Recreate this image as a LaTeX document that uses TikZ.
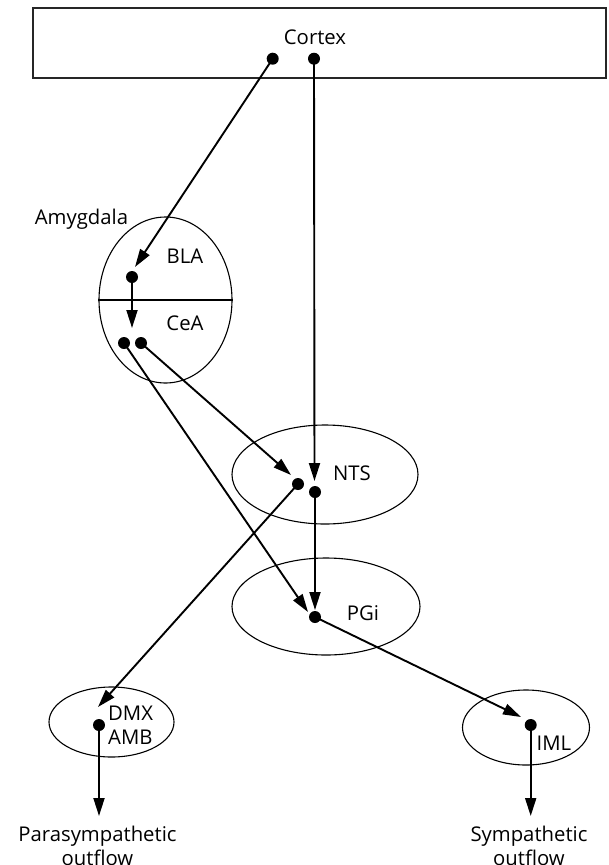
\documentclass[tikz,border=0pt]{standalone}
\usepackage{fontspec}
\setmainfont{Open Sans}
\usetikzlibrary{arrows.meta,shapes.geometric}
\begin{document}
\begin{tikzpicture}[x=1pt,y=-1pt,
  lbl/.style={inner sep=0pt,font=\fontsize{20.3}{24.5}\selectfont},
  region/.style={draw,ellipse,inner sep=0pt,line width=1.1pt},
  dot/.style={circle,fill,inner sep=0pt,minimum size=12pt},
  conn/.style={line width=1.9pt,-{Triangle[length=18pt,width=11pt]}},
  plain/.style={line width=1.8pt}]
\useasboundingbox (0,0) rectangle (608,865);
% cortex box
\node[draw=black!85,line width=1.4pt,minimum width=573pt,minimum height=70pt,inner sep=0pt] (cortex) at (319.5,43) {};
\node[lbl] (cortexlbl) at (315,37) {Cortex};
% regions
\node[region,minimum width=133pt,minimum height=166pt] (amy) at (165.5,300) {};
\draw[line width=1.1pt] (amy.west) -- (amy.east);
\node[region,minimum width=186pt,minimum height=99pt] (nts) at (325,474.5) {};
\node[region,minimum width=188pt,minimum height=97pt] (pgi) at (326,606.5) {};
\node[region,minimum width=125pt,minimum height=70pt] (dmx) at (111.5,722) {};
\node[region,minimum width=127pt,minimum height=75pt] (iml) at (526,727.5) {};
% labels
\node[lbl] (amylbl) at (81.5,219) {Amygdala};
\node[lbl] (blalbl) at (185,256) {BLA};
\node[lbl] (cealbl) at (185,323) {CeA};
\node[lbl] (ntslbl) at (352,473) {NTS};
\node[lbl] (pgilbl) at (363,613) {PGi};
\node[lbl,align=left,anchor=west] (dmxlbl) at (108,725) {DMX\\AMB};
\node[lbl] (imllbl) at (554,743) {IML};
\node[lbl,align=center] (paralbl) at (97.5,846) {Parasympathetic\\outflow};
\node[lbl,align=center] (symlbl) at (529,846) {Sympathetic\\outflow};
% dots
\node[dot] (c1) at (272.7,58.7) {};
\node[dot] (c2) at (314,58.7) {};
\node[dot] (bla) at (132,277) {};
\node[dot] (cea1) at (124,343) {};
\node[dot] (cea2) at (141,343) {};
\node[dot] (nts1) at (298,484) {};
\node[dot] (nts2) at (315,492) {};
\node[dot] (pgid) at (315,617) {};
\node[dot] (dmxd) at (99,725) {};
\node[dot] (imld) at (530.7,725) {};
% arrow tips
\coordinate (tbla) at (135,267);
\coordinate (tcea) at (132,328);
\coordinate (tnts1) at (291,475);
\coordinate (tnts2) at (314.5,481);
\coordinate (tpgi1) at (308,612);
\coordinate (tpgi2) at (315,610);
\coordinate (tdmx) at (98,707);
\coordinate (timl) at (521,717);
\coordinate (tpara) at (99,816);
\coordinate (tsym) at (530.7,816);
% connectors
\draw[conn] (c1.center) -- (tbla);
\draw[conn] (c2.center) -- (tnts2);
\draw[conn] (bla.center) -- (tcea);
\draw[conn] (cea2.center) -- (tnts1);
\draw[conn] (cea1.center) -- (tpgi1);
\draw[conn] (nts2.center) -- (tpgi2);
\draw[conn] (nts1.center) -- (tdmx);
\draw[conn] (pgid.center) -- (timl);
\draw[conn] (dmxd.center) -- (tpara);
\draw[conn] (imld.center) -- (tsym);
\end{tikzpicture}
\end{document}
